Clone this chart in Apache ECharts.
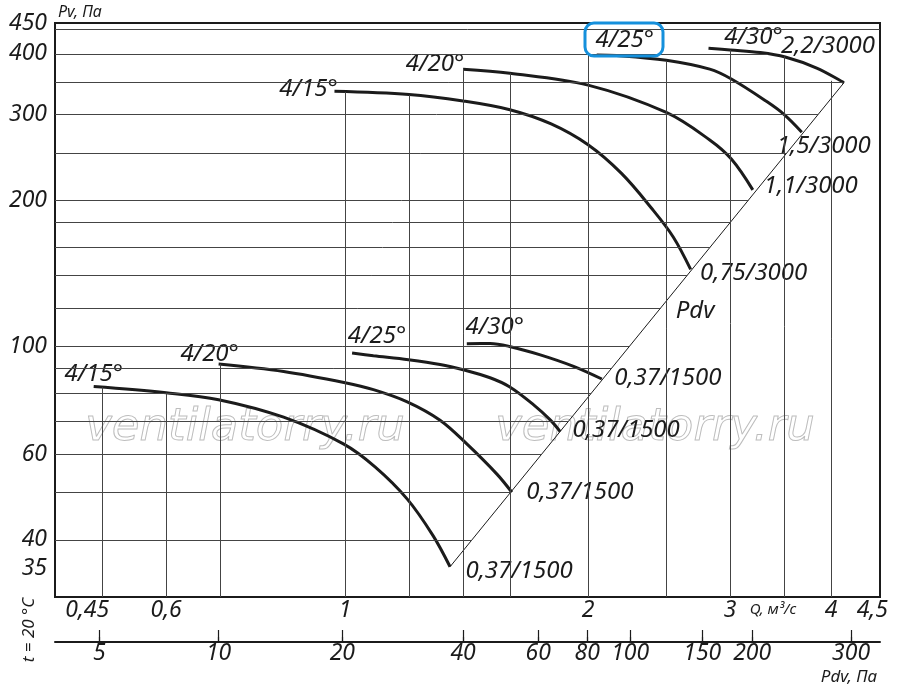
<!DOCTYPE html>
<html>
<head>
<meta charset="utf-8">
<script src="https://cdn.jsdelivr.net/npm/echarts@6/dist/echarts.min.js"></script>
<style>
  html, body { margin: 0; padding: 0; background: #fff; }
  #main { width: 900px; height: 689px; }
</style>
</head>
<body>
<div id="main"></div>
<script>
// axis ticks / labels
const qLabels = [0.45, 0.6, 1, 2, 3, 4, 4.5];
const pvLabels = [35, 40, 60, 100, 200, 300, 400, 450];
const pdvLabels = [5, 10, 20, 40, 60, 80, 100, 150, 200, 300];
// where each Pdv tick sits on the Q scale
const pdvAtQ = [0.496, 0.697, 0.992, 1.4, 1.735, 1.995, 2.255, 2.77, 3.194, 4.236];

// grid lines
const gridQ = [0.5, 0.6, 0.7, 1, 1.2, 1.4, 1.6, 2, 2.5, 3, 3.5, 4];
const gridQTop = [82.4, 80.3, 92, 334, 329, 372, 365, 398, 387, 407, 395, 352];
const gridPv = [40, 50, 60, 70, 80, 90, 100, 120, 140, 160, 180, 200, 250, 300, 350, 400, 450];

// dynamic pressure line
const pdvLine = [[1.349, 35.2], [4.153, 349.3]];

// curve names
const angles = ['4/15°', '4/20°', '4/25°', '4/30°'];
const power3000 = ['0,75/3000', '1,1/3000', '1,5/3000', '2,2/3000'];
const power1500 = ['0,37/1500', '0,37/1500', '0,37/1500', '0,37/1500'];

// 3000 rpm curves  [Q m3/s, Pv Pa]
const up15 = [[0.97, 335], [1.2, 330], [1.4, 320], [1.6, 307], [1.8, 287], [2.0, 260], [2.2, 227], [2.4, 192], [2.55, 168], [2.68, 144]];
const up20 = [[1.4, 372], [1.6, 365], [2.0, 345], [2.5, 303], [2.83, 266], [3.01, 243], [3.2, 210]];
const up25 = [[2.05, 398], [2.17, 397], [2.5, 388], [2.83, 372], [3.01, 355], [3.33, 319], [3.5, 300], [3.68, 276]];
const up30 = [[2.82, 411], [3.0, 407.5], [3.27, 402.5], [3.51, 394], [3.84, 374], [4.15, 349]];

// 1500 rpm curves
const low15 = [[0.488, 82.7], [0.6, 80.3], [0.697, 77.7], [0.839, 71.5], [0.995, 63], [1.089, 56.5], [1.194, 48.5], [1.285, 40.8], [1.349, 35.2]];
const low20 = [[0.697, 92], [0.839, 88.8], [1.0, 84.2], [1.084, 81.5], [1.192, 77], [1.311, 70.5], [1.415, 63], [1.542, 54.6], [1.609, 50.1]];
const low25 = [[1.02, 96.9], [1.084, 95.7], [1.198, 93.9], [1.311, 91.8], [1.404, 89.4], [1.512, 86.2], [1.598, 82.6], [1.711, 75.9], [1.795, 70.6], [1.847, 66.8]];
const low30 = [[1.415, 101.3], [1.512, 101.4], [1.598, 100], [1.745, 96.1], [1.919, 91], [2.08, 85.7]];

const xMin = 0.437, xMax = 4.6, yMin = 30.5, yMax = 463;

const FONT = "'Noto Sans', 'DejaVu Sans', sans-serif";
const INK = '#1b1b1b';
const italic = { fontFamily: FONT, fontStyle: 'italic', color: INK };

function nearest(arr, v) {
  let best = 0, d = Infinity;
  arr.forEach((a, i) => {
    const dd = Math.abs(Math.log(a) - Math.log(v));
    if (dd < d) { d = dd; best = i; }
  });
  return best;
}

function logInterp(a, b, pv) {
  const t = (Math.log(pv) - Math.log(a[1])) / (Math.log(b[1]) - Math.log(a[1]));
  return Math.exp(Math.log(a[0]) + t * (Math.log(b[0]) - Math.log(a[0])));
}

// right end of a horizontal grid line: the Pdv line, else the top curve, else the frame
function hLineEnd(pv) {
  if (pv <= pdvLine[1][1]) return logInterp(pdvLine[0], pdvLine[1], pv);
  for (let i = 0; i < up30.length - 1; i++) {
    const a = up30[i], b = up30[i + 1];
    if ((a[1] - pv) * (b[1] - pv) <= 0) return logInterp(a, b, pv);
  }
  return xMax;
}

const gridSegments = [];
gridPv.forEach(pv => gridSegments.push([{ coord: [xMin, pv] }, { coord: [hLineEnd(pv), pv] }]));
gridQ.forEach((q, i) => gridSegments.push([{ coord: [q, yMin] }, { coord: [q, gridQTop[i]] }]));

function curve(points, startText, endText, so, eo) {
  const last = points.length - 1;
  const lab = (text, off) => ({ show: true, position: 'inside', formatter: text, offset: off });
  return {
    type: 'line',
    xAxisIndex: 0, yAxisIndex: 0,
    smooth: 0.35,
    z: 3,
    silent: true,
    symbol: 'circle', symbolSize: 1, showSymbol: true,
    itemStyle: { color: 'rgba(0,0,0,0)' },
    lineStyle: { color: INK, width: 3 },
    label: Object.assign({ fontSize: 24 }, italic),
    emphasis: { disabled: true },
    data: points.map((p, i) => {
      if (i === 0) return { value: p, label: lab(startText, so) };
      if (i === last) return { value: p, label: lab(endText, eo) };
      return p;
    })
  };
}

const curves3000 = [up15, up20, up25, up30];
const curves1500 = [low15, low20, low25, low30];
const startOff3000 = [[-26, -2], [-28, -5], [28, -15], [45, -11]];
const endOff3000 = [[63, 4], [58, -4], [22, 14], [-16, -36]];
const startOff1500 = [[0, -12], [-9, -10], [25, -17], [28, -17]];
const endOff1500 = [[69, 4], [68, 0], [66, -1], [66, -1]];

const series = [{
  type: 'line',
  xAxisIndex: 0, yAxisIndex: 0,
  data: pdvLine,
  symbol: 'none',
  z: 1,
  silent: true,
  lineStyle: { color: INK, width: 1 },
  emphasis: { disabled: true },
  markLine: {
    silent: true,
    animation: false,
    symbol: ['none', 'none'],
    label: { show: false },
    lineStyle: { type: 'solid', color: '#444', width: 1 },
    emphasis: { disabled: true },
    data: gridSegments
  }
}];
curves3000.forEach((c, i) => series.push(curve(c, angles[i], power3000[i], startOff3000[i], endOff3000[i])));
curves1500.forEach((c, i) => series.push(curve(c, angles[i], power1500[i], startOff1500[i], endOff1500[i])));

const yLabelStyle = Object.assign({ margin: 8, fontSize: 23 }, italic);

const chart = echarts.init(document.getElementById('main'), null, { renderer: 'canvas' });

chart.setOption({
  animation: false,
  backgroundColor: '#fff',
  textStyle: { fontFamily: FONT },
  grid: [
    { left: 55, right: 20, top: 23, bottom: 92, show: true, borderColor: INK, borderWidth: 2, backgroundColor: 'transparent' },
    { left: 55, right: 20, top: 630, height: 12 }
  ],
  xAxis: [
    {
      gridIndex: 0, type: 'log', min: xMin, max: xMax,
      axisLine: { show: false }, axisTick: { show: false }, splitLine: { show: false },
      axisLabel: Object.assign({
        customValues: qLabels,
        formatter: v => String(qLabels[nearest(qLabels, v)]).replace('.', ','),
        margin: 2, fontSize: 23,
        alignMinLabel: 'left'
      }, italic)
    },
    {
      gridIndex: 1, type: 'log', position: 'top', min: xMin, max: xMax,
      axisLine: { show: true, lineStyle: { color: INK, width: 2 } },
      axisTick: { show: true, customValues: pdvAtQ, length: 5, lineStyle: { color: INK, width: 1.2 } },
      axisLabel: { show: false }, splitLine: { show: false }
    },
    {
      gridIndex: 1, type: 'log', position: 'bottom', min: xMin, max: xMax,
      axisLine: { show: false },
      axisTick: { show: true, inside: true, customValues: pdvAtQ, length: 12, lineStyle: { color: INK, width: 1.2 } },
      axisLabel: Object.assign({
        customValues: pdvAtQ,
        formatter: v => String(pdvLabels[nearest(pdvAtQ, v)]),
        margin: 0, fontSize: 23
      }, italic),
      splitLine: { show: false }
    }
  ],
  yAxis: [
    {
      gridIndex: 0, type: 'log', min: yMin, max: yMax,
      axisLine: { show: false }, axisTick: { show: false }, splitLine: { show: false },
      axisLabel: Object.assign({
        customValues: pvLabels.slice(0, -1),
        formatter: v => String(pvLabels[nearest(pvLabels, v)])
      }, yLabelStyle)
    },
    { gridIndex: 1, type: 'value', min: 0, max: 1, show: false },
    {
      // top label sits a little above its grid line
      gridIndex: 0, type: 'log', position: 'left', min: yMin, max: yMax,
      axisLine: { show: false }, axisTick: { show: false }, splitLine: { show: false },
      axisLabel: Object.assign({
        customValues: pvLabels.slice(-1),
        formatter: v => '{hi|' + pvLabels[nearest(pvLabels, v)] + '}',
        rich: { hi: Object.assign({ fontSize: 23, padding: [0, 0, 12, 0] }, italic) }
      }, yLabelStyle)
    }
  ],
  graphic: { elements: [
    { type: 'text', z: 1, silent: true, x: 245, y: 428,
      style: { text: 'ventilatorry.ru', font: 'italic 45px "DejaVu Sans"', fill: 'rgba(255,255,255,0)', stroke: '#bdbdbd', lineWidth: 1, align: 'center', verticalAlign: 'middle' } },
    { type: 'text', z: 1, silent: true, x: 655, y: 428,
      style: { text: 'ventilatorry.ru', font: 'italic 45px "DejaVu Sans"', fill: 'rgba(255,255,255,0)', stroke: '#bdbdbd', lineWidth: 1, align: 'center', verticalAlign: 'middle' } },
    { type: 'text', z: 10, silent: true, x: 58, y: 12,
      style: { text: 'Pv, Па', font: 'italic 16px "Noto Sans"', fill: INK, align: 'left', verticalAlign: 'middle' } },
    { type: 'text', z: 10, silent: true, x: 773, y: 610,
      style: { text: 'Q, м³/с', font: 'italic 15px "Noto Sans"', fill: INK, align: 'center', verticalAlign: 'middle' } },
    { type: 'text', z: 10, silent: true, x: 849, y: 677,
      style: { text: 'Pdv, Па', font: 'italic 17px "Noto Sans"', fill: INK, align: 'center', verticalAlign: 'middle' } },
    { type: 'text', z: 10, silent: true, x: 29, y: 630, rotation: Math.PI / 2,
      style: { text: 't = 20 °C', font: 'italic 17px "Noto Sans"', fill: INK, align: 'center', verticalAlign: 'middle' } },
    { type: 'text', z: 10, silent: true, x: 695, y: 311,
      style: { text: 'Pdv', font: 'italic 24px "Noto Sans"', fill: INK, align: 'center', verticalAlign: 'middle' } },
    { type: 'rect', z: 10, silent: true,
      shape: { x: 585, y: 23, width: 78, height: 33, r: 9 },
      style: { fill: 'none', stroke: '#1590dc', lineWidth: 3 } }
  ] },
  series: series
});
</script>
</body>
</html>
